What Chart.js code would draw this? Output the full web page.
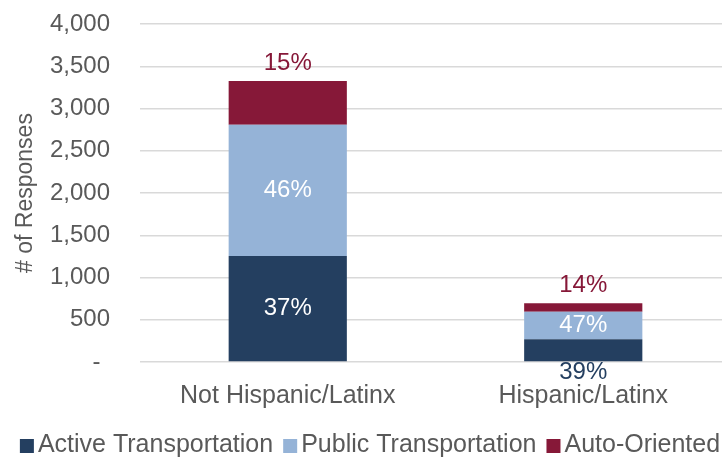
<!DOCTYPE html>
<html>
<head>
<meta charset="utf-8">
<script src="https://cdn.jsdelivr.net/npm/chart.js@4.4.1/dist/chart.umd.min.js"></script>
<style>
  html, body { margin: 0; padding: 0; background: #fff; overflow: hidden; }
  #wrap { width: 740px; height: 460px; }
</style>
</head>
<body>
<div id="wrap"><canvas id="chart"></canvas></div>
<script>
const categories = ["Not Hispanic/Latinx", "Hispanic/Latinx"];
const seriesNames = ["Active Transportation", "Public Transportation", "Auto-Oriented"];
const activeCounts = [1253, 268];
const publicCounts = [1556, 326];
const autoCounts = [515, 100];
const activePct = [37, 39];
const publicPct = [46, 47];
const autoPct = [15, 14];
// where each share label goes: inside the segment, above the bar, or under it
const activeLabelPos = ["inside", "below"];
const publicLabelPos = ["inside", "inside"];
const autoLabelPos = ["above", "above"];
const yMax = 4000;
const yStep = 500;

const FONT = "'Liberation Sans', Arial, sans-serif";
const GREY = "#595959";
const LEGEND_SPACE = 40;

// percentage labels on the stacked segments
const shareLabels = {
  id: "shareLabels",
  afterDatasetsDraw(chart) {
    const ctx = chart.ctx;
    ctx.save();
    ctx.font = "24px " + FONT;
    ctx.textAlign = "center";
    ctx.textBaseline = "middle";
    chart.data.datasets.forEach((ds, di) => {
      chart.getDatasetMeta(di).data.forEach((bar, i) => {
        const pos = ds.labelPos[i];
        let y, color;
        if (pos === "inside") {
          y = (bar.y + bar.base) / 2;
          color = "#ffffff";
        } else if (pos === "above") {
          y = bar.y - 18;
          color = ds.backgroundColor;
        } else {
          y = bar.base + 11;
          color = ds.backgroundColor;
        }
        ctx.fillStyle = color;
        ctx.fillText(ds.pct[i] + "%", bar.x, y);
      });
    });
    ctx.restore();
  }
};

// compact legend row along the bottom (tighter than the built-in one)
const bottomLegend = {
  id: "bottomLegend",
  afterDraw(chart) {
    const ctx = chart.ctx;
    const box = 14, gapIn = 4, gapOut = 10;
    ctx.save();
    ctx.font = "25px " + FONT;
    ctx.textBaseline = "middle";
    ctx.textAlign = "left";
    const items = chart.data.datasets.map(ds => ({
      text: ds.label,
      color: ds.backgroundColor,
      w: ctx.measureText(ds.label).width
    }));
    const total = items.reduce((s, it) => s + box + gapIn + it.w, 0) + gapOut * (items.length - 1);
    let x = (chart.width - total) / 2;
    const y = chart.height - LEGEND_SPACE / 2 + 5;
    items.forEach(it => {
      ctx.fillStyle = it.color;
      ctx.fillRect(x, y - box / 2 + 1, box, box);
      x += box + gapIn;
      ctx.fillStyle = GREY;
      ctx.fillText(it.text, x, y);
      x += it.w + gapOut;
    });
    ctx.restore();
  }
};

new Chart(document.getElementById("chart"), {
  type: "bar",
  data: {
    labels: categories,
    datasets: [
      { label: seriesNames[0], data: activeCounts, pct: activePct, labelPos: activeLabelPos, backgroundColor: "#243F60" },
      { label: seriesNames[1], data: publicCounts, pct: publicPct, labelPos: publicLabelPos, backgroundColor: "#95B3D7" },
      { label: seriesNames[2], data: autoCounts, pct: autoPct, labelPos: autoLabelPos, backgroundColor: "#861838" }
    ]
  },
  options: {
    responsive: true,
    maintainAspectRatio: false,
    animation: false,
    categoryPercentage: 1,
    barPercentage: 0.4,
    layout: { padding: { top: 24, right: 9, bottom: LEGEND_SPACE, left: 0 } },
    plugins: {
      tooltip: { enabled: false },
      legend: { display: false }
    },
    scales: {
      x: {
        stacked: true,
        afterFit(s) { s.height = 58; },
        grid: { display: false },
        border: { display: false },
        ticks: { color: GREY, padding: 11, font: { family: FONT, size: 25 } }
      },
      y: {
        stacked: true,
        min: 0,
        max: yMax,
        afterFit(s) {
          s.width = 140;
          s.paddingTop = 0;
          s.paddingBottom = 0;
        },
        grid: { color: "#d9d9d9", lineWidth: 1.5, drawTicks: false },
        border: { display: false },
        ticks: {
          stepSize: yStep,
          padding: 30,
          color: GREY,
          font: { family: FONT, size: 24 },
          // accounting-style dash for zero
          callback: v => v === 0 ? "-\u2009\u2009" : v.toLocaleString("en-US")
        },
        title: {
          display: true,
          text: "# of Responses",
          color: GREY,
          padding: { top: 12, bottom: 0 },
          font: { family: FONT, size: 23 }
        }
      }
    }
  },
  plugins: [shareLabels, bottomLegend]
});
</script>
</body>
</html>
